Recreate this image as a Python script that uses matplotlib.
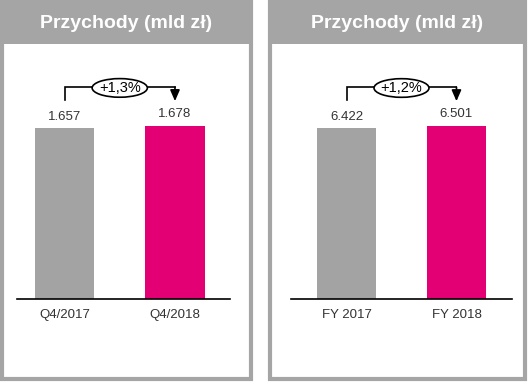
import matplotlib.pyplot as plt
from matplotlib.patches import Rectangle, Ellipse

plt.rcParams['font.family'] = ['Liberation Sans', 'DejaVu Sans']

title = 'Przychody (mld zł)'
labels_q = ['Q4/2017', 'Q4/2018']
values_q = [1.657, 1.678]
change_q = '+1,3%'
labels_fy = ['FY 2017', 'FY 2018']
values_fy = [6.422, 6.501]
change_fy = '+1,2%'

GRAY = '#a5a5a5'
BAR_GRAY = '#a3a3a3'
MAGENTA = '#e20074'

W, H = 532, 382
fig = plt.figure(figsize=(W / 100, H / 100), dpi=100)


def px(x0, y0, x1, y1):
    # pixel box (top-left origin) -> figure fraction [l, b, w, h]
    return [x0 / W, 1 - y1 / H, (x1 - x0) / W, (y1 - y0) / H]


def panel(x0, x1):
    l, b, w, h = px(x0 + 2, 2, x1 - 2, 379)
    fig.add_artist(Rectangle((l, b), w, h, transform=fig.transFigure,
                             fc='white', ec=GRAY, lw=3, zorder=-2))
    l, b, w, h = px(x0, 0, x1, 44)
    fig.add_artist(Rectangle((l, b), w, h, transform=fig.transFigure,
                             fc=GRAY, ec='none', zorder=-1))
    fig.text((x0 + x1) / 2 / W, 1 - 23 / H, title, color='white',
             fontsize=14, fontweight='bold', ha='center', va='center')


def chart(x0, x1, cats, vals, change, xlim):
    ax = fig.add_axes(px(x0, 80, x1, 299))
    ax.patch.set_visible(False)
    top = vals[0] * 219 / 171
    ax.bar(range(len(cats)), vals, width=0.535, color=[BAR_GRAY, MAGENTA])
    ax.set_ylim(0, top)
    ax.set_xlim(*xlim)
    for i, v in enumerate(vals):
        ax.text(i, v + top * 0.025, f'{v:.3f}', ha='center', va='bottom',
                fontsize=9.5, color='#333333')
    ax.set_xticks(range(len(cats)))
    ax.set_xticklabels(cats, fontsize=9.5, color='#333333')
    ax.tick_params(length=0, pad=7)
    for s in ['left', 'right', 'top']:
        ax.spines[s].set_visible(False)
    ax.spines['bottom'].set_linewidth(1.2)
    ax.set_yticks([])
    m = max(vals)
    y_hi = m * 1.224
    y_lo = m * 1.149
    ax.plot([0, 0, 1], [y_lo, y_hi, y_hi], color='black', lw=1.2,
            clip_on=False, solid_joinstyle='miter')
    ax.annotate('', xy=(1, y_lo - top * 0.005), xytext=(1, y_hi),
                arrowprops=dict(arrowstyle='-|>,head_length=0.55,head_width=0.24',
                                color='black', lw=1.2, shrinkA=0, shrinkB=0,
                                mutation_scale=12), annotation_clip=False)
    ax.add_patch(Ellipse((0.5, y_hi - top * 0.004), 0.5, top * 0.085, fc='white',
                         ec='black', lw=1.2, clip_on=False, zorder=3))
    ax.text(0.5, y_hi - top * 0.004, change, ha='center', va='center',
            fontsize=10.5, color='black', zorder=4)


panel(0, 253)
panel(268, 527)
chart(17, 230, labels_q, values_q, change_q, (-0.43, 1.498))
chart(291, 512, labels_fy, values_fy, change_fy, (-0.505, 1.505))

fig.savefig('out.png', dpi=100)
